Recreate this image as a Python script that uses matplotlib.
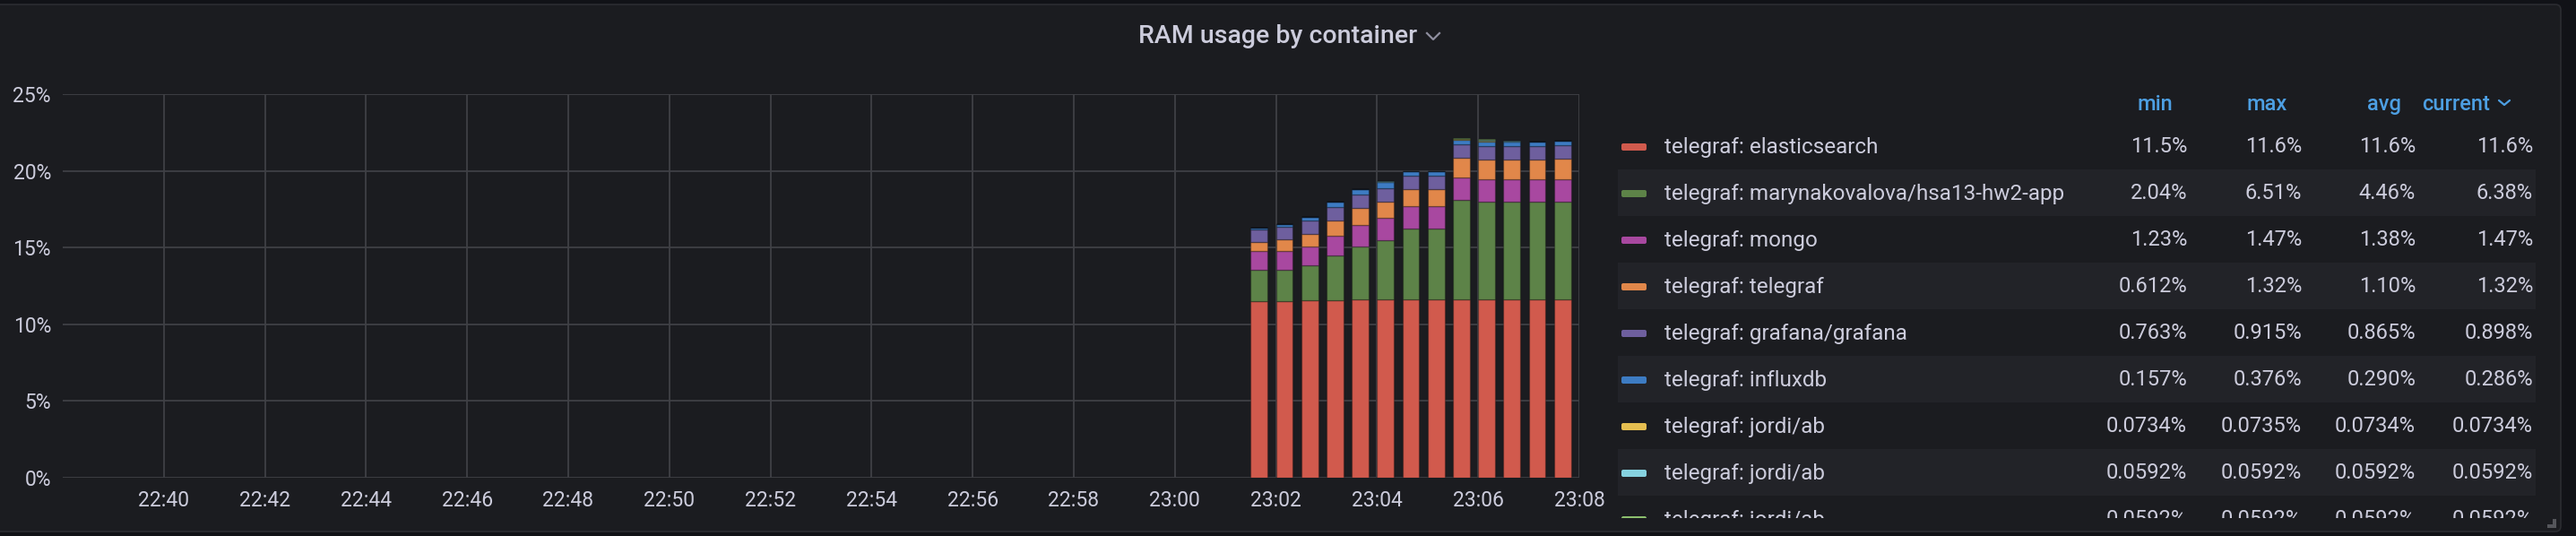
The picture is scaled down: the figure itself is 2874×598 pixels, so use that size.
import numpy as np
import matplotlib
matplotlib.use("Agg")
import matplotlib.pyplot as plt
import matplotlib.dates as mdates
from matplotlib.patches import FancyBboxPatch, Rectangle
from matplotlib.transforms import IdentityTransform
from matplotlib.lines import Line2D
from datetime import datetime

plt.rcParams['font.family'] = ['Roboto', 'DejaVu Sans']

# ---------------- data ----------------
times = ["23:01:40", "23:02:10", "23:02:40", "23:03:10", "23:03:40", "23:04:10", "23:04:40",
         "23:05:10", "23:05:40", "23:06:10", "23:06:40", "23:07:10", "23:07:40"]

elasticsearch = [11.5, 11.5, 11.55, 11.55, 11.6, 11.6, 11.6, 11.6, 11.6, 11.6, 11.6, 11.6, 11.6]
hw2_app = [2.04, 2.04, 2.27, 2.91, 3.47, 3.88, 4.63, 4.63, 6.51, 6.38, 6.38, 6.38, 6.38]
mongo = [1.23, 1.23, 1.24, 1.32, 1.42, 1.43, 1.44, 1.44, 1.46, 1.45, 1.47, 1.47, 1.47]
telegraf = [0.612, 0.78, 0.85, 0.99, 1.06, 1.07, 1.12, 1.14, 1.30, 1.32, 1.30, 1.30, 1.32]
grafana = [0.78, 0.81, 0.86, 0.85, 0.89, 0.91, 0.89, 0.89, 0.87, 0.87, 0.87, 0.87, 0.898]
influxdb = [0.157, 0.19, 0.23, 0.37, 0.37, 0.376, 0.29, 0.27, 0.29, 0.27, 0.29, 0.30, 0.286]
jordi_ab_1 = [np.nan, np.nan, np.nan, np.nan, np.nan, np.nan, np.nan, np.nan, 0.0734, 0.0735, np.nan, np.nan, np.nan]
jordi_ab_2 = [np.nan, np.nan, np.nan, np.nan, np.nan, 0.0592, np.nan, np.nan, np.nan, 0.0592, 0.0592, np.nan, np.nan]
jordi_ab_3 = [np.nan, np.nan, np.nan, np.nan, np.nan, np.nan, np.nan, np.nan, 0.0592, 0.0592, np.nan, np.nan, np.nan]

series_names = ["telegraf: elasticsearch", "telegraf: marynakovalova/hsa13-hw2-app", "telegraf: mongo",
                "telegraf: telegraf", "telegraf: grafana/grafana", "telegraf: influxdb",
                "telegraf: jordi/ab", "telegraf: jordi/ab", "telegraf: jordi/ab"]
stat_headers = ["min", "max", "avg", "current"]
stat_min = ["11.5%", "2.04%", "1.23%", "0.612%", "0.763%", "0.157%", "0.0734%", "0.0592%", "0.0592%"]
stat_max = ["11.6%", "6.51%", "1.47%", "1.32%", "0.915%", "0.376%", "0.0735%", "0.0592%", "0.0592%"]
stat_avg = ["11.6%", "4.46%", "1.38%", "1.10%", "0.865%", "0.290%", "0.0734%", "0.0592%", "0.0592%"]
stat_cur = ["11.6%", "6.38%", "1.47%", "1.32%", "0.898%", "0.286%", "0.0734%", "0.0592%", "0.0592%"]

x_ticks = ["22:40", "22:42", "22:44", "22:46", "22:48", "22:50", "22:52", "22:54",
           "22:56", "22:58", "23:00", "23:02", "23:04", "23:06", "23:08"]
x_range = ["22:38", "23:08"]
y_ticks = [0, 5, 10, 15, 20, 25]
title = "RAM usage by container"

# ---------------- style ----------------
colors = ["#D15A4D", "#5D8348", "#A848A0", "#E1874A", "#6E5F9E", "#3D7CC3", "#E5BE50", "#86D2E0", "#8CBF6E"]
TEXT = "#ccccdc"
BLUE = "#4d9fe3"
PANEL = "#1b1c20"
PAGE = "#111217"
GRID = "#3f4045"
BAND = "#222328"

W, H = 2874, 598
fig = plt.figure(figsize=(W / 100, H / 100), dpi=100)
fig.patch.set_facecolor(PAGE)

panel = FancyBboxPatch((-10, H - 593), 2857 + 10, 593 - 5, boxstyle="round,pad=0,rounding_size=6",
                       transform=IdentityTransform(), facecolor=PANEL, edgecolor="#2b2c31", linewidth=1.2,
                       zorder=-10)
fig.patches.append(panel)


def tn(s, fmt="%H:%M"):
    t = datetime.strptime(s, fmt).time()
    return mdates.date2num(datetime.combine(datetime(2024, 1, 1).date(), t))


# ---------------- main axes ----------------
ax = fig.add_axes([70 / W, 1 - 532.7 / H, (1762 - 70) / W, (532.7 - 105) / H])
ax.set_facecolor("none")
ax.set_zorder(1)

tnum = [tn(t, "%H:%M:%S") for t in times]
all_series = [elasticsearch, hw2_app, mongo, telegraf, grafana, influxdb, jordi_ab_1, jordi_ab_2, jordi_ab_3]
bottom = np.zeros(len(times))
width = 20 / 86400
for vals, c in zip(all_series, colors):
    v = np.nan_to_num(np.array(vals, dtype=float))
    ax.bar(tnum, v, width=width, bottom=bottom, color=c, edgecolor=(0, 0, 0, 0.25), linewidth=1.0, zorder=3)
    bottom = bottom + v

ax.set_xlim(tn(x_range[0]), tn(x_range[1]))
ax.set_ylim(0, 25)
ax.set_xticks([tn(t) for t in x_ticks])
ax.xaxis.set_major_formatter(mdates.DateFormatter("%H:%M"))
ax.set_yticks(y_ticks)
ax.set_yticklabels([f"{t}%" for t in y_ticks])
ax.grid(True, color=GRID, linewidth=1.3, zorder=0)
ax.set_axisbelow(True)
for s in ax.spines.values():
    s.set_visible(False)
ax.tick_params(axis="both", length=0, colors=TEXT, labelsize=16.5)
ax.tick_params(axis="y", pad=9.4)
ax.tick_params(axis="x", pad=10.5)

# ---------------- title ----------------
fig.text(1426 / W, 1 - 48 / H, title, ha="center", va="baseline", color=TEXT, fontsize=20.5, fontweight="medium")
fig.lines.append(Line2D([1592 / W, 1599 / W, 1606 / W], [1 - 37 / H, 1 - 44 / H, 1 - 37 / H],
                        transform=fig.transFigure, color="#8e8e9e", linewidth=1.6))

# ---------------- legend table ----------------
lax = fig.add_axes([1770 / W, 1 - 578 / H, (2857 - 1770) / W, (578 - 85) / H])
lax.set_xlim(1770, 2857)
lax.set_ylim(578, 85)
lax.axis("off")
lax.set_zorder(1)

hdr_right = [2424, 2552, 2679, 2778]
val_right = [2440, 2568, 2695, 2826]
for hx, hname in zip(hdr_right, stat_headers):
    lax.text(hx, 123, hname, ha="right", va="baseline", color=BLUE, fontsize=17, fontweight="medium")
lax.plot([2788, 2794, 2800], [112, 117, 112], color=BLUE, linewidth=1.6, solid_capstyle="round")

row_pitch = 52
first_row = 163
cols = [stat_min, stat_max, stat_avg, stat_cur]
for i, name in enumerate(series_names):
    yc = first_row + i * row_pitch
    if i % 2 == 1:
        lax.add_patch(Rectangle((1805, yc - 26), 1024, 52, facecolor=BAND, edgecolor="none", zorder=0))
    sw = FancyBboxPatch((1809, yc - 3), 28, 8, boxstyle="round,pad=0,rounding_size=2",
                        facecolor=colors[i], edgecolor="none", zorder=2)
    lax.add_patch(sw)
    lax.text(1857, yc + 7.5, name, ha="left", va="baseline", color=TEXT, fontsize=17.5, clip_on=True, zorder=3)
    for xr, col in zip(val_right, cols):
        lax.text(xr, yc + 7.5, col[i], ha="right", va="baseline", color=TEXT, fontsize=17, clip_on=True, zorder=3)

# resize handle
fig.patches.append(Rectangle((2848, H - 589), 4, 10, transform=IdentityTransform(), facecolor="#55565b"))
fig.patches.append(Rectangle((2842, H - 589), 10, 4, transform=IdentityTransform(), facecolor="#55565b"))

fig.savefig("out.png", dpi=100, facecolor=fig.get_facecolor())
